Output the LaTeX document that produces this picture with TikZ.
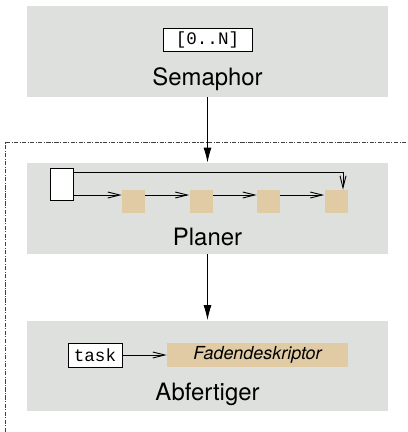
\documentclass[tikz,border=0pt]{standalone}
\usepackage{fontspec}
\setmainfont{TeX Gyre Heros}
\setmonofont{Liberation Mono}
\usetikzlibrary{arrows.meta}
\definecolor{layerbg}{RGB}{221,224,221}
\definecolor{slotbg}{RGB}{224,203,165}
\tikzset{>={Latex[length=0.3cm,width=0.16cm]}}
\tikzset{
  layer/.style={fill=layerbg,inner sep=0,minimum width=7.22cm,minimum height=1.82cm},
  slot/.style={fill=slotbg,inner sep=0,minimum size=0.46cm},
  field/.style={draw,fill=white,inner sep=0,minimum height=0.46cm,
    font=\ttfamily\fontsize{10}{12}\selectfont},
  layername/.style={anchor=base,font=\fontsize{13.6}{16}\selectfont},
  open/.style={-{Straight Barb[length=0.24cm,width=0.12cm]}},
  bound/.style={dash pattern=on 2.4pt off 0.8pt on 0.6pt off 0.8pt,black!75,line width=0.4pt},
}

\begin{document}
\begin{tikzpicture}[x=0.02cm,y=-0.02cm,line width=0.5pt]
  \useasboundingbox (0,0) rectangle (408,432);

  % the three layers
  \node[layer] (sem) at (207.5,51.5) {};
  \node[layer] (plan) at (207.5,208.5) {};
  \node[layer] (disp) at (207.5,366) {};
  \node[layername] at (207.5,86) {Semaphor};
  \node[layername] at (207.5,245) {Planer};
  \node[layername] at (207.5,400) {Abfertiger};

  % kernel boundary
  \draw[bound] (5,432) |- (408,142);

  \draw[->] (sem) -- (plan);
  \draw[->] (plan) -- (disp);

  % counter
  \node[field,minimum width=1.78cm] (count) at (207.5,39.5) {[0..N]};

  % ready list
  \node[field,minimum width=0.46cm,minimum height=0.64cm] (head) at (61.5,184) {};
  \foreach \x [count=\i] in {133.5,201,268.5,336}
    \node[slot] (s\i) at (\x,201.5) {};
  \draw[open] (head.east |- 0,195) -- (s1.west |- 0,195);
  \foreach \i/\j in {1/2,2/3,3/4}
    \draw[open] (s\i.east |- 0,195) -- (s\j.west |- 0,195);
  \draw[open] (head.east |- 0,172) -| ([xshift=0.14cm]s4.north);

  % running thread
  \node[field,minimum width=1.08cm,minimum height=0.48cm] (task) at (95,355) {task};
  \node[slot,minimum width=3.62cm,minimum height=0.48cm,
    font=\itshape\fontsize{10.2}{12}\selectfont] (desc) at (257.5,355) {Fadendeskriptor};
  \draw[open] (task) -- (desc);
\end{tikzpicture}
\end{document}
